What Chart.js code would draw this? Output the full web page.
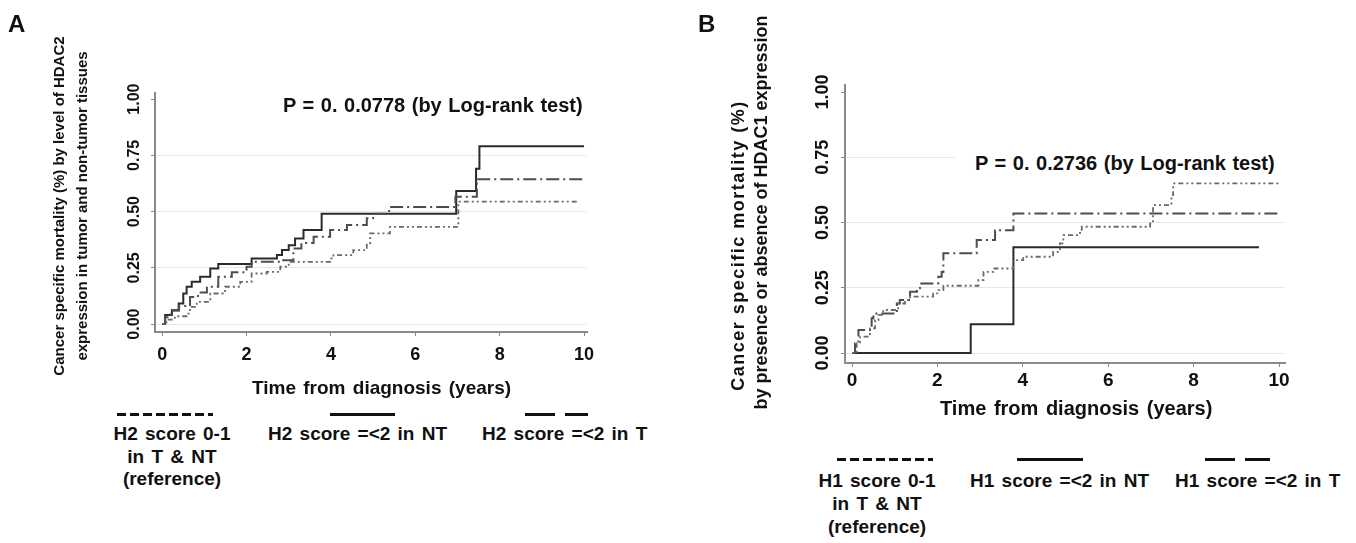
<!DOCTYPE html>
<html>
<head>
<meta charset="utf-8">
<title>Cancer specific mortality by HDAC2 / HDAC1 expression</title>
<script src="https://cdn.jsdelivr.net/npm/chart.js@4.4.1/dist/chart.umd.min.js"></script>
<style>
  body { margin: 0; width: 1356px; height: 543px; overflow: hidden; background: #fff; position: relative;
         font-family: 'Liberation Sans', Arial, sans-serif; font-weight: bold; color: #111; }
  canvas { position: absolute; }
  .txt { position: absolute; white-space: nowrap; }
  .letter { font-size: 24px; line-height: 24px; }
  .ytitle { position: absolute; text-align: center; transform: rotate(-90deg); white-space: nowrap; }
  .ptext { font-size: 20px; line-height: 20px; word-spacing: 1px; }
  .xtitle { font-size: 19px; line-height: 19px; word-spacing: 2px; }
  .leg { font-size: 19px; word-spacing: 2px; }
  .legline { position: absolute; height: 3px; background: #111; }
  .legdash { position: absolute; height: 3px;
             background: repeating-linear-gradient(to right, #111 0 9px, transparent 9px 13px); }
</style>
</head>
<body>
<canvas id="chartA" width="620" height="400" style="left:0;top:0"></canvas>
<canvas id="chartB" width="620" height="440" style="left:700px;top:0"></canvas>

<!-- panel A text -->
<div class="txt letter" style="left:8px;top:12px">A</div>
<div class="ytitle" style="left:-130px;top:183px;width:400px;height:46px;font-size:15px;line-height:23px">Cancer specific mortality (%) by level of HDAC2<br>expression in tumor and non-tumor tissues</div>
<div class="txt ptext" style="left:283px;top:95px">P = 0. 0.0778 (by Log-rank test)</div>
<div class="txt xtitle" style="left:252px;top:378px">Time from diagnosis (years)</div>

<div class="legdash" style="left:117px;top:413px;width:96px"></div>
<div class="legline" style="left:330px;top:413px;width:65px"></div>
<div class="legline" style="left:525px;top:413px;width:30px"></div>
<div class="legline" style="left:565px;top:413px;width:23px"></div>
<div class="txt leg" style="left:92px;top:423px;width:160px;text-align:center;line-height:22.5px">H2 score 0-1<br>in T &amp; NT<br>(reference)</div>
<div class="txt leg" style="left:268px;top:423px;line-height:22.5px">H2 score =&lt;2 in NT</div>
<div class="txt leg" style="left:482px;top:423px;line-height:22.5px">H2 score =&lt;2 in T</div>

<!-- panel B text -->
<div class="txt letter" style="left:698px;top:12px">B</div>
<div class="ytitle" style="left:528px;top:234px;width:420px;height:23px;font-size:18px;line-height:23px;letter-spacing:1.5px">Cancer specific mortality (%)</div>
<div class="ytitle" style="left:551px;top:201px;width:420px;height:23px;font-size:18px;line-height:23px">by presence or absence of HDAC1 expression</div>
<div class="txt ptext" style="left:955px;top:151px;width:335px;height:24px;line-height:24px;padding-left:20px;box-sizing:border-box;background:#fff">P = 0. 0.2736 (by Log-rank test)</div>
<div class="txt xtitle" style="left:940px;top:398px;font-size:20px;line-height:20px">Time from diagnosis (years)</div>

<div class="legdash" style="left:837px;top:458px;width:96px"></div>
<div class="legline" style="left:1017px;top:458px;width:66px"></div>
<div class="legline" style="left:1205px;top:458px;width:30px"></div>
<div class="legline" style="left:1245px;top:458px;width:25px"></div>
<div class="txt leg" style="left:797px;top:469px;width:160px;text-align:center;line-height:23px">H1 score 0-1<br>in T &amp; NT<br>(reference)</div>
<div class="txt leg" style="left:970px;top:469px;line-height:23px">H1 score =&lt;2 in NT</div>
<div class="txt leg" style="left:1175px;top:469px;line-height:23px">H1 score =&lt;2 in T</div>

<script>
// Kaplan-Meier style step curves
const xTicks = [0, 2, 4, 6, 8, 10];
const yTicks = [0, 0.25, 0.5, 0.75, 1];

// Panel A (HDAC2)
const aRefTime = [0, 0.1, 0.3, 0.62, 0.66, 0.82, 1.14, 1.49, 1.85, 2.12, 2.48, 2.8, 3.0, 3.98, 4.06, 4.53, 4.85, 4.93, 5.4, 7.02, 9.86];
const aRefRisk = [0, 0.02, 0.035, 0.047, 0.077, 0.099, 0.136, 0.166, 0.188, 0.225, 0.232, 0.255, 0.277, 0.292, 0.307, 0.329, 0.359, 0.403, 0.432, 0.544, 0.544];
const aNtTime = [0, 0.07, 0.23, 0.39, 0.5, 0.58, 0.7, 0.9, 1.14, 1.33, 2.12, 2.72, 2.84, 3.0, 3.15, 3.35, 3.78, 6.97, 7.44, 7.52, 10];
const aNtRisk = [0, 0.04, 0.062, 0.092, 0.136, 0.166, 0.188, 0.21, 0.247, 0.267, 0.292, 0.307, 0.329, 0.351, 0.381, 0.418, 0.49, 0.592, 0.69, 0.79, 0.79];
const aTTime = [0, 0.07, 0.2, 0.4, 0.66, 0.85, 1.06, 1.33, 1.65, 2.0, 2.12, 2.83, 3.11, 3.3, 3.59, 3.98, 4.38, 4.85, 5.0, 5.38, 6.95, 7.46, 10];
const aTRisk = [0, 0.03, 0.06, 0.08, 0.12, 0.14, 0.166, 0.21, 0.23, 0.255, 0.277, 0.284, 0.336, 0.36, 0.388, 0.418, 0.44, 0.47, 0.49, 0.52, 0.566, 0.644, 0.644];

// Panel B (HDAC1)
const bRefTime = [0, 0.11, 0.19, 0.42, 0.54, 0.62, 0.73, 1.08, 1.24, 1.36, 1.9, 2.02, 2.14, 2.96, 3.08, 3.31, 3.78, 4.01, 4.71, 4.87, 4.95, 5.34, 5.38, 6.98, 7.05, 7.48, 7.52, 10];
const bRefRisk = [0, 0.037, 0.063, 0.095, 0.126, 0.146, 0.165, 0.19, 0.203, 0.216, 0.229, 0.241, 0.258, 0.28, 0.311, 0.324, 0.356, 0.369, 0.388, 0.42, 0.452, 0.465, 0.484, 0.497, 0.567, 0.605, 0.65, 0.656];
const bNtTime = [0, 2.78, 3.78, 9.53];
const bNtRisk = [0, 0.11, 0.405, 0.405];
const bTTime = [0, 0.07, 0.15, 0.46, 0.5, 1.05, 1.12, 1.36, 1.52, 1.59, 2.02, 2.1, 2.14, 2.92, 3.35, 3.78, 10];
const bTRisk = [0, 0.037, 0.088, 0.133, 0.152, 0.19, 0.203, 0.235, 0.248, 0.267, 0.292, 0.311, 0.382, 0.433, 0.471, 0.535, 0.535];

const axisColor = '#8a8a8a';
const gridColor = '#e8e8e8';

const lineStyles = {
  ref: { color: '#6a6a6a', width: 1.8, dash: [2, 3, 2, 3, 5, 3] },
  nt: { color: '#2b2b2b', width: 2, dash: [] },
  t: { color: '#4d4d4d', width: 2, dash: [13, 4, 2, 4] }
};

Chart.defaults.font.family = "'Liberation Sans', Arial, sans-serif";
Chart.defaults.font.weight = 'bold';
Chart.defaults.color = '#111';

function toPoints(times, risks) {
  return times.map((t, i) => ({ x: t, y: risks[i] }));
}

function kmDataset(times, risks, style) {
  return {
    data: toPoints(times, risks),
    borderColor: style.color,
    borderWidth: style.width,
    borderDash: style.dash,
    stepped: true,
    pointRadius: 0,
    fill: false
  };
}

function makeChart(id, datasets, p) {
  return new Chart(document.getElementById(id), {
    type: 'line',
    data: { datasets },
    options: {
      responsive: false,
      animation: false,
      devicePixelRatio: 1,
      layout: { padding: { top: p.top, right: p.right, bottom: 0, left: 0 } },
      plugins: { legend: { display: false }, tooltip: { enabled: false } },
      scales: {
        x: {
          type: 'linear', min: p.xMin, max: p.xMax,
          afterBuildTicks: s => { s.ticks = xTicks.map(v => ({ value: v })); },
          afterFit: s => { s.height = p.xHeight; },
          grid: { display: true, drawOnChartArea: false, tickLength: 4, tickColor: axisColor },
          border: { color: axisColor, width: 2 },
          ticks: { font: { size: p.xFont }, padding: p.xPad, maxRotation: 0, callback: v => v }
        },
        y: {
          type: 'linear', min: p.yMin, max: p.yMax,
          afterBuildTicks: s => { s.ticks = yTicks.map(v => ({ value: v })); },
          afterFit: s => { s.width = p.yWidth; },
          grid: {
            color: c => (c.tick && c.tick.value === 1 ? 'rgba(0,0,0,0)' : gridColor),
            tickColor: axisColor, tickLength: 4
          },
          border: { color: axisColor, width: 2 },
          ticks: {
            font: { size: p.yFont }, minRotation: 90, maxRotation: 90,
            crossAlign: 'center', padding: p.yPad, callback: v => v.toFixed(2)
          }
        }
      }
    }
  });
}

makeChart('chartA', [
  kmDataset(aRefTime, aRefRisk, lineStyles.ref),
  kmDataset(aTTime, aTRisk, lineStyles.t),
  kmDataset(aNtTime, aNtRisk, lineStyles.nt)
], { top: 93, right: 33, xHeight: 68, yWidth: 155, xMin: -0.17, xMax: 10.07, yMin: -0.035, yMax: 1.027,
     xFont: 18, xPad: 8, yFont: 16, yPad: 1 });

makeChart('chartB', [
  kmDataset(bRefTime, bRefRisk, lineStyles.ref),
  kmDataset(bTTime, bTRisk, lineStyles.t),
  kmDataset(bNtTime, bNtRisk, lineStyles.nt)
], { top: 85, right: 35, xHeight: 77, yWidth: 145, xMin: -0.164, xMax: 10.14, yMin: -0.038, yMax: 1.027,
     xFont: 19, xPad: 2, yFont: 18, yPad: 0 });
</script>
</body>
</html>
